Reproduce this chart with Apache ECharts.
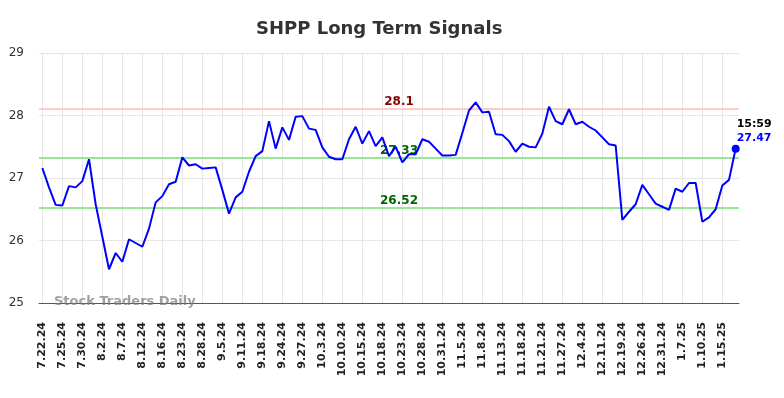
<!DOCTYPE html>
<html>
<head>
<meta charset="utf-8">
<script src="https://cdn.jsdelivr.net/npm/echarts@6/dist/echarts.min.js"></script>
<style>
  html, body { margin: 0; padding: 0; background: #fff; }
  #chart { width: 784px; height: 398px; }
</style>
</head>
<body>
<div id="chart"></div>
<script>
const dates = [
  "7.22.24", "7.23.24", "7.24.24", "7.25.24", "7.26.24", "7.29.24", "7.30.24", "7.31.24", "8.1.24",
  "8.2.24", "8.5.24", "8.6.24", "8.7.24", "8.8.24", "8.9.24", "8.12.24", "8.14.24", "8.15.24",
  "8.16.24", "8.19.24", "8.21.24", "8.23.24", "8.26.24", "8.27.24", "8.28.24", "8.30.24", "9.3.24",
  "9.5.24", "9.6.24", "9.9.24", "9.11.24", "9.13.24", "9.16.24", "9.18.24", "9.20.24", "9.23.24",
  "9.24.24", "9.25.24", "9.26.24", "9.27.24", "9.30.24", "10.1.24", "10.3.24", "10.7.24", "10.8.24",
  "10.10.24", "10.11.24", "10.14.24", "10.15.24", "10.16.24", "10.17.24", "10.18.24", "10.21.24", "10.22.24",
  "10.23.24", "10.24.24", "10.25.24", "10.28.24", "10.29.24", "10.30.24", "10.31.24", "11.1.24", "11.4.24",
  "11.5.24", "11.6.24", "11.7.24", "11.8.24", "11.11.24", "11.12.24", "11.13.24", "11.14.24", "11.15.24",
  "11.18.24", "11.19.24", "11.20.24", "11.21.24", "11.22.24", "11.25.24", "11.27.24", "11.29.24", "12.2.24",
  "12.4.24", "12.6.24", "12.9.24", "12.11.24", "12.13.24", "12.17.24", "12.19.24", "12.20.24", "12.23.24",
  "12.26.24", "12.27.24", "12.30.24", "12.31.24", "1.2.25", "1.3.25", "1.7.25", "1.8.25", "1.9.25",
  "1.10.25", "1.13.25", "1.14.25", "1.15.25", "1.16.25", "1.17.25"
];

const prices = [
  27.16, 26.85, 26.57, 26.56, 26.87, 26.85, 26.95, 27.30, 26.58,
  26.06, 25.54, 25.80, 25.66, 26.02, 25.96, 25.90, 26.19, 26.61,
  26.71, 26.90, 26.94, 27.33, 27.20, 27.22, 27.15, 27.16, 27.17,
  26.81, 26.43, 26.69, 26.78, 27.10, 27.35, 27.43, 27.91, 27.47,
  27.81, 27.61, 27.98, 27.99, 27.79, 27.77, 27.49, 27.34, 27.30,
  27.30, 27.62, 27.82, 27.55, 27.75, 27.51, 27.65, 27.35, 27.50,
  27.25, 27.38, 27.38, 27.62, 27.58, 27.47, 27.36, 27.36, 27.37,
  27.72, 28.08, 28.21, 28.05, 28.06, 27.70, 27.69, 27.59, 27.42,
  27.55, 27.50, 27.49, 27.71, 28.14, 27.91, 27.86, 28.10, 27.86,
  27.90, 27.82, 27.76, 27.65, 27.54, 27.52, 26.33, 26.46, 26.58,
  26.89, 26.74, 26.59, 26.54, 26.49, 26.83, 26.78, 26.92, 26.92,
  26.30, 26.37, 26.50, 26.88, 26.97, 27.47
];

const resistance = 28.1;
const supportHigh = 27.33;
const supportLow = 26.52;
const lastTime = "15:59";
const yTicks = [25, 26, 27, 28, 29];

const chart = echarts.init(document.getElementById("chart"));
const lastIdx = prices.length - 1;
const font = "DejaVu Sans";

function levelLine(value, lineColor, textColor) {
  return {
    yAxis: value,
    lineStyle: { color: lineColor, width: 2, type: "solid" },
    label: {
      show: true,
      position: "middle",
      distance: 1,
      padding: [0, 0, 0, 20],
      formatter: String(value),
      color: textColor,
      fontFamily: font,
      fontWeight: "bold",
      fontSize: 12
    }
  };
}

chart.setOption({
  animation: false,
  title: {
    text: "SHPP Long Term Signals",
    left: 251,
    top: 15,
    textStyle: {
      fontFamily: font,
      fontWeight: "bold",
      fontSize: 18,
      color: "#333"
    }
  },
  grid: {
    left: 39,
    right: 45,
    top: 53,
    bottom: 95
  },
  xAxis: {
    type: "category",
    data: dates,
    boundaryGap: true,
    axisLine: { lineStyle: { color: "#555", width: 1 } },
    axisTick: { show: false },
    axisLabel: {
      interval: 2,
      rotate: 90,
      margin: 19,
      fontFamily: font,
      fontWeight: "bold",
      fontSize: 11,
      color: "#222"
    },
    splitLine: {
      show: true,
      interval: 2,
      alignWithLabel: true,
      lineStyle: { color: "#e6e6e6", width: 1 }
    }
  },
  yAxis: {
    type: "value",
    min: yTicks[0],
    max: yTicks[yTicks.length - 1],
    interval: 1,
    axisLine: { show: false },
    axisTick: { show: false },
    axisLabel: {
      margin: 15,
      fontFamily: font,
      fontSize: 12,
      color: "#333"
    },
    splitLine: { lineStyle: { color: "#e6e6e6", width: 1 } }
  },
  graphic: [
    {
      type: "text",
      left: 54,
      top: 295,
      z: 10,
      style: {
        text: "Stock Traders Daily",
        fill: "rgba(120,120,120,0.7)",
        font: "bold 13px 'DejaVu Sans'"
      }
    }
  ],
  series: [
    {
      type: "line",
      data: prices,
      showSymbol: false,
      lineStyle: { color: "#0000ff", width: 2 },
      itemStyle: { color: "#0000ff" },
      z: 5,
      markLine: {
        silent: true,
        symbol: "none",
        z: 3,
        data: [
          levelLine(resistance, "#ffcccc", "#8b0000"),
          levelLine(supportHigh, "#99e699", "#006400"),
          levelLine(supportLow, "#99e699", "#006400")
        ]
      },
      markPoint: {
        silent: true,
        symbol: "circle",
        symbolSize: 8,
        itemStyle: { color: "#0000ff" },
        data: [
          {
            coord: [dates[lastIdx], prices[lastIdx]],
            value: prices[lastIdx]
          }
        ],
        label: {
          show: true,
          position: [5, -27],
          align: "left",
          verticalAlign: "top",
          formatter: () => "{t|" + lastTime + "}\n{v|" + prices[lastIdx].toFixed(2) + "}",
          rich: {
            t: { fontFamily: font, fontWeight: "bold", fontSize: 11, color: "#000", lineHeight: 14 },
            v: { fontFamily: font, fontWeight: "bold", fontSize: 11, color: "#0000ff", lineHeight: 14 }
          }
        }
      }
    }
  ]
});
</script>
</body>
</html>
